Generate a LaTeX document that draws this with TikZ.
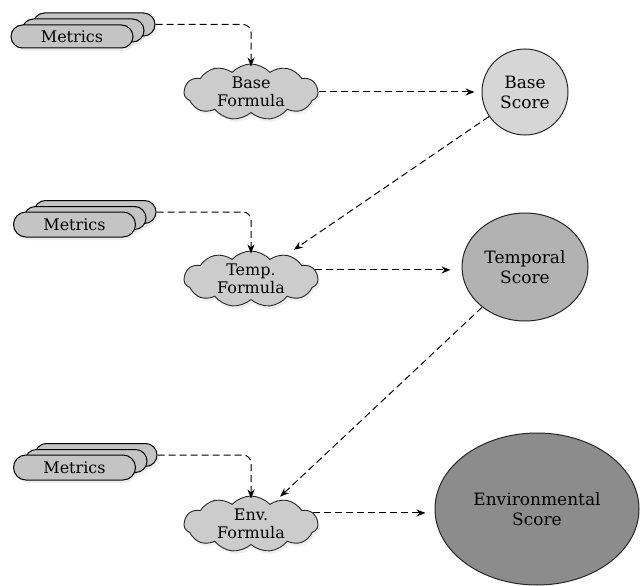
\documentclass[tikz,border=0pt]{standalone}
\usepackage{fontspec}
\setmainfont{DejaVu Serif}
\usetikzlibrary{shapes.misc,shapes.symbols,shapes.geometric,arrows.meta,shadows}
\definecolor{pillgray}{gray}{0.77}
\definecolor{cloudgray}{gray}{0.80}
\definecolor{basegray}{gray}{0.84}
\definecolor{tempgray}{gray}{0.70}
\definecolor{envgray}{gray}{0.55}
\tikzset{
  lbl/.style={font=\fontsize{16}{18}\selectfont, align=center, text=black},
  biglbl/.style={font=\fontsize{17}{20}\selectfont, align=center, text=black},
  pill/.style={rounded rectangle, draw=black, line width=1pt, fill=pillgray,
    minimum width=122pt, minimum height=23pt, inner sep=0pt,
    drop shadow={opacity=0.12, shadow xshift=2pt, shadow yshift=-3pt}},
  formula/.style={lbl, cloud, cloud puffs=11, cloud puff arc=95, cloud ignores aspect,
    draw=black!85, line width=0.9pt, fill=cloudgray,
    minimum width=134pt, minimum height=56pt, inner sep=0pt,
    drop shadow={opacity=0.12, shadow xshift=2pt, shadow yshift=-3pt}},
  score/.style={biglbl, ellipse, draw=black!85, line width=1pt, inner sep=0pt},
  flow/.style={dashed, dash pattern=on 7pt off 4pt, line width=1pt, black,
    -{Stealth[length=9pt, width=7pt]}},
}
\begin{document}
\begin{tikzpicture}[x=1pt, y=-1pt]
  \useasboundingbox (0,0) rectangle (641,586);
  \fill[white] (0,0) rectangle (641,586);

  % --- base row ---
  \node[pill] (m1c) at (94,24.5) {};
  \node[pill] (m1b) at (83,30.5) {};
  \node[pill, lbl] (m1a) at (72,36.5) {Metrics};
  \node[formula] (bform) at (251,92) {Base\\Formula};
  \node[score, fill=basegray, minimum width=86pt, minimum height=86pt] (bscore) at (525,92) {Base\\Score};

  % --- temporal row ---
  \node[pill] (m2c) at (95,212) {};
  \node[pill] (m2b) at (85,218) {};
  \node[pill, lbl, minimum height=25pt] (m2a) at (74.5,224.5) {Metrics};
  \node[formula] (tform) at (251,279) {Temp.\\Formula};
  \node[score, fill=tempgray, minimum width=126pt, minimum height=108pt] (tscore) at (525,267) {Temporal\\Score};

  % --- environmental row ---
  \node[pill] (m3c) at (96,455) {};
  \node[pill] (m3b) at (86,461) {};
  \node[pill, lbl, minimum height=25pt] (m3a) at (74.5,467.5) {Metrics};
  \node[formula] (eform) at (251,524) {Env.\\Formula};
  \node[score, fill=envgray, minimum width=204pt, minimum height=152pt] (escore) at (537,509) {Environmental\\Score};

  % metric inputs feeding each formula
  \draw[flow, rounded corners=8pt] (m1c.east) -| ([yshift=-3pt]bform.north);
  \draw[flow, rounded corners=8pt] (m2c.east) -| ([yshift=-3pt]tform.north);
  \draw[flow, rounded corners=8pt] (m3c.east) -| ([yshift=-3pt]eform.north);

  % formula results
  \draw[flow, shorten >=7pt] (bform.east) -- (bform.east -| bscore.west);
  \draw[flow, shorten >=11pt] (tform.8) -- (tform.8 -| tscore.west);
  \draw[flow, shorten >=9pt] (eform.10) -- (eform.10 -| escore.west);

  % each score feeds the next formula
  \draw[flow, shorten >=9pt] (bscore) -- (tform);
  \draw[flow, shorten >=6pt] (tscore) -- (eform);
\end{tikzpicture}
\end{document}
